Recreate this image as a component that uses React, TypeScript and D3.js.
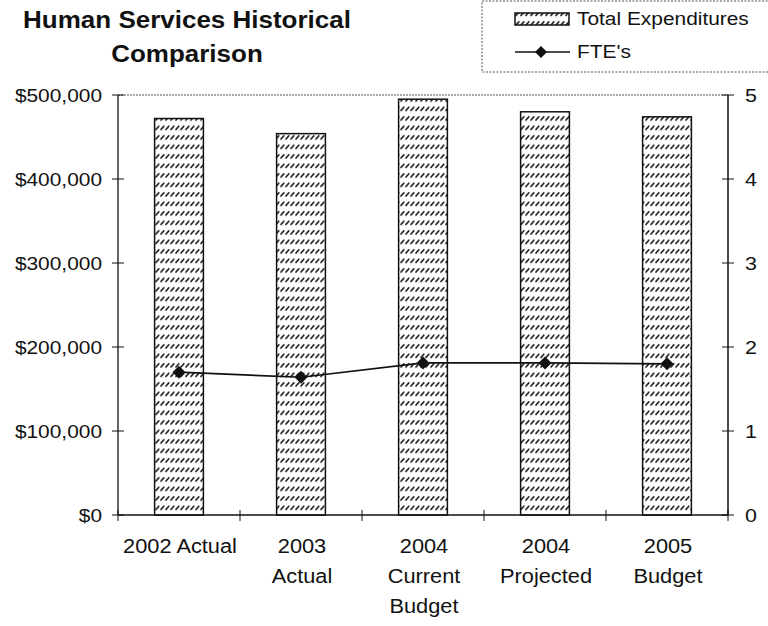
import React from "react";
import * as d3 from "d3";

// Chart data
const categories: string[][] = [
  ["2002 Actual"],
  ["2003", "Actual"],
  ["2004", "Current", "Budget"],
  ["2004", "Projected"],
  ["2005", "Budget"],
];
const expenditures: number[] = [472000, 454000, 495000, 480000, 474000];
const ftes: number[] = [1.7, 1.64, 1.81, 1.81, 1.8];
const leftTicks: number[] = [0, 100000, 200000, 300000, 400000, 500000];
const rightTicks: number[] = [0, 1, 2, 3, 4, 5];
const titleLines: string[] = ["Human Services Historical", "Comparison"];
const legendLabels: string[] = ["Total Expenditures", "FTE's"];

const W = 768;
const H = 626;
const plot = { left: 118, right: 728, top: 95, bottom: 515 };
const SX = 1.13; // horizontal stretch applied to all text
const FONT = "'Liberation Sans', Arial, Helvetica, sans-serif";
const INK = "#111";

type TxtProps = {
  x: number;
  y: number;
  size: number;
  anchor?: "start" | "middle" | "end";
  weight?: string | number;
  children: React.ReactNode;
};

function Txt({ x, y, size, anchor = "start", weight = "normal", children }: TxtProps) {
  return (
    <text
      transform={`translate(${x},${y}) scale(${SX},1)`}
      textAnchor={anchor}
      fontSize={size}
      fontWeight={weight}
      fontFamily={FONT}
      fill={INK}
    >
      {children}
    </text>
  );
}

function diamond(cx: number, cy: number, r: number) {
  return `M${cx},${cy - r}L${cx + r},${cy}L${cx},${cy + r}L${cx - r},${cy}Z`;
}

export default function App() {
  const x = d3
    .scaleBand<number>()
    .domain(d3.range(categories.length))
    .range([plot.left, plot.right])
    .paddingInner(0.6)
    .paddingOuter(0.3);
  const step = x.step();
  const yL = d3.scaleLinear().domain([0, 500000]).range([plot.bottom, plot.top]);
  const yR = d3.scaleLinear().domain([0, 5]).range([plot.bottom, plot.top]);

  const money = (v: number) => "$" + d3.format(",")(v);

  const line = d3
    .line<number>()
    .x((_, i) => (x(i) as number) + x.bandwidth() / 2)
    .y((d) => yR(d));

  const boundaries = d3.range(categories.length + 1).map((i) => plot.left + i * step);

  return (
    <svg
      width={W}
      height={H}
      viewBox={`0 0 ${W} ${H}`}
      style={{ position: "absolute", left: 0, top: 0, background: "#fff" }}
    >
      <defs>
        <pattern id="hatch" patternUnits="userSpaceOnUse" width={5} height={9.5}>
          <rect width={5} height={9.5} fill="#fff" />
          <line x1={1} y1={6} x2={3.8} y2={2.8} stroke="#111" strokeWidth={1.6} strokeLinecap="round" />
        </pattern>
      </defs>
      <rect width={W} height={H} fill="#fff" />

      {/* Title */}
      <Txt x={187} y={28} size={23} anchor="middle" weight="bold">
        {titleLines[0]}
      </Txt>
      <Txt x={187} y={62} size={23} anchor="middle" weight="bold">
        {titleLines[1]}
      </Txt>

      {/* Legend */}
      <rect x={482} y={1} width={300} height={71} fill="none" stroke="#555" strokeWidth={1} strokeDasharray="2,1.5" />
      <rect x={515} y={13} width={54} height={12} fill="url(#hatch)" stroke={INK} strokeWidth={1.5} />
      <Txt x={577} y={25} size={18.5}>
        {legendLabels[0]}
      </Txt>
      <line x1={515} x2={570} y1={52} y2={52} stroke={INK} strokeWidth={1.5} />
      <path d={diamond(541, 52, 6)} fill={INK} />
      <Txt x={577} y={58} size={18.5}>
        {legendLabels[1]}
      </Txt>

      {/* Plot frame */}
      <line x1={plot.left} x2={plot.right} y1={plot.top} y2={plot.top} stroke="#555" strokeWidth={1} strokeDasharray="2,1" />

      {/* Bars */}
      {expenditures.map((v, i) => (
        <rect
          key={i}
          x={x(i)}
          y={yL(v)}
          width={x.bandwidth()}
          height={plot.bottom - yL(v)}
          fill="url(#hatch)"
          stroke={INK}
          strokeWidth={1.5}
        />
      ))}

      {/* Axes */}
      <line x1={plot.left} x2={plot.left} y1={plot.top} y2={plot.bottom} stroke={INK} strokeWidth={1.3} />
      <line x1={plot.right} x2={plot.right} y1={plot.top} y2={plot.bottom} stroke={INK} strokeWidth={1.5} />
      <line x1={plot.left} x2={plot.right} y1={plot.bottom} y2={plot.bottom} stroke={INK} strokeWidth={1.5} />

      {leftTicks.map((t) => (
        <g key={"l" + t}>
          <line x1={plot.left - 6} x2={plot.left + 6} y1={yL(t)} y2={yL(t)} stroke={INK} strokeWidth={1} />
          <Txt x={102} y={yL(t) + 6.5} size={18.5} anchor="end">
            {money(t)}
          </Txt>
        </g>
      ))}
      {rightTicks.map((t) => (
        <g key={"r" + t}>
          <line x1={plot.right - 6} x2={plot.right + 6} y1={yR(t)} y2={yR(t)} stroke={INK} strokeWidth={1} />
          <Txt x={745} y={yR(t) + 7} size={19}>
            {String(t)}
          </Txt>
        </g>
      ))}
      {boundaries.map((bx, i) => (
        <line key={"b" + i} x1={bx} x2={bx} y1={plot.bottom - 5} y2={plot.bottom + 6} stroke={INK} strokeWidth={1} />
      ))}

      {/* Category labels */}
      {categories.map((lines, i) => (
        <g key={"c" + i}>
          {lines.map((s, j) => (
            <Txt key={j} x={(x(i) as number) + x.bandwidth() / 2 + 1} y={553 + j * 30} size={19.3} anchor="middle">
              {s}
            </Txt>
          ))}
        </g>
      ))}

      {/* FTE line */}
      <path d={line(ftes) || ""} fill="none" stroke={INK} strokeWidth={1.7} />
      {ftes.map((v, i) => (
        <path key={"d" + i} d={diamond((x(i) as number) + x.bandwidth() / 2, yR(v), 6.5)} fill={INK} />
      ))}
    </svg>
  );
}
